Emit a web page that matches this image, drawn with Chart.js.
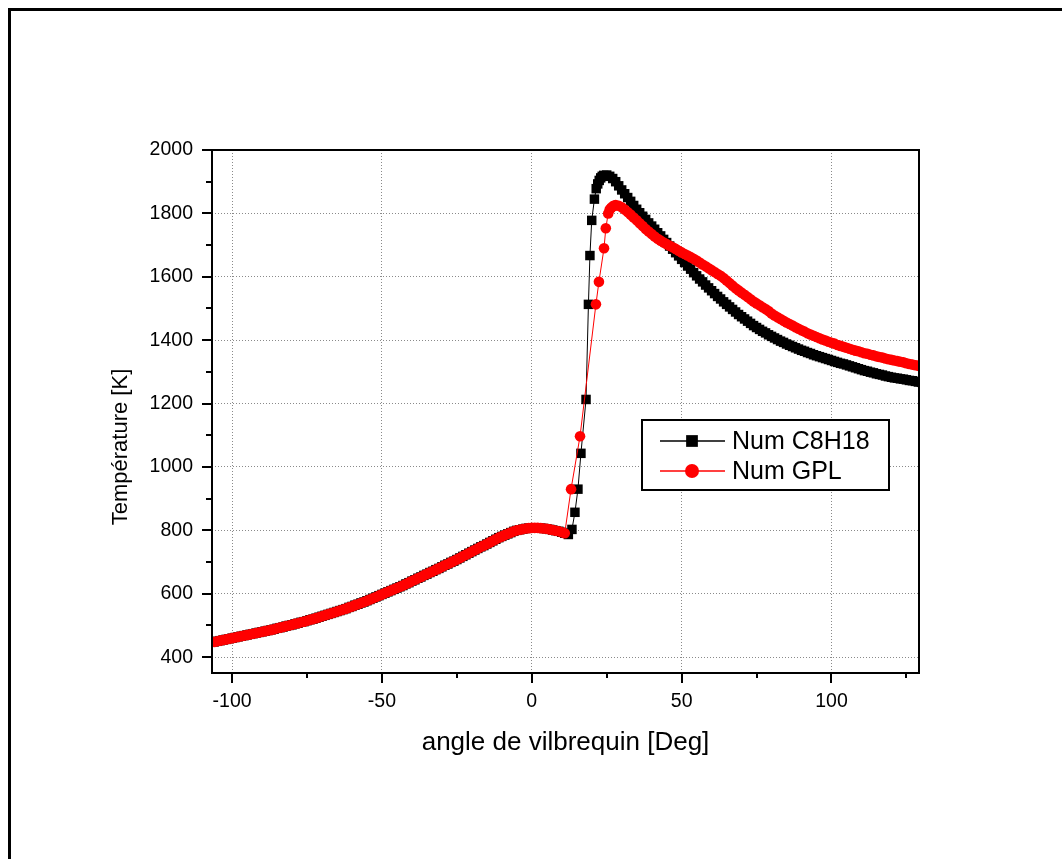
<!doctype html>
<html lang="fr"><head>
<meta charset="UTF-8"><title>Température - angle de vilbrequin</title>
<script src="https://cdn.jsdelivr.net/npm/chart.js@4/dist/chart.umd.min.js"></script>
<style>
 html,body{margin:0;background:#fff}
 #wrap{width:1062px;height:859px}
</style></head><body>
<div id="wrap"><canvas id="cyl"></canvas></div>
<script>
// ----- data: compression (shared by both fuels) -----
const compAngle = [-106,-105,-104,-103,-102,-101,-100,-99,-98,-97,-96,-95,-94,-93,-92,-91,-90,-89,-88,-87,-86,-85,-84,-83,-82,-81,-80,-79,-78,-77,-76,-75,-74,-73,-72,-71,-70,-69,-68,-67,-66,-65,-64,-63,-62,-61,-60,-59,-58,-57,-56,-55,-54,-53,-52,-51,-50,-49,-48,-47,-46,-45,-44,-43,-42,-41,-40,-39,-38,-37,-36,-35,-34,-33,-32,-31,-30,-29,-28,-27,-26,-25,-24,-23,-22,-21,-20,-19,-18,-17,-16,-15,-14,-13,-12,-11,-10,-9,-8,-7,-6,-5,-4,-3,-2,-1,0,1,2,3,4,5,6,7,8,9,10,11];
const compTemp  = [448,450,452,454,456,458,460,462,464,466,468,470,472,474,476,478,480,482,484,486,488,491,493,495,498,500,502,505,507,510,512,515,518,520,523,526,529,532,535,538,541,544,547,550,553,557,560,564,567,571,574,578,582,586,590,594,598,602,606,610,614,618,622,626,631,635,640,644,649,653,658,662,667,671,676,680,685,690,694,699,703,708,713,718,723,728,733,738,743,748,752,757,762,767,772,777,781,785,789,793,797,800,802,804,806,807,808,808,808,807,806,805,803,801,799,797,794,791];

// ----- data: combustion + expansion, Num C8H18 -----
const c8Angle = [12.2,13.4,14.4,15.4,16.4,18.1,18.9,19.4,20.0,20.9,21.5,22,22.5,23,23.5,24,25,26,27,28,29,30,31,32,33,34,35,36,37,38,39,40,41,42,43,44,45,46,47,48,49,50,51,52,53,54,55,56,57,58,59,60,61,62,63,64,65,66,67,68,69,70,71,72,73,74,75,76,77,78,79,80,81,82,83,84,85,86,87,88,89,90,91,92,93,94,95,96,97,98,99,100,101,102,103,104,105,106,107,108,109,110,111,112,113,114,115,116,117,118,119,120,121,122,123,124,125,126,127,128,129,130];
const c8Temp  = [787,803,857,930,1043,1213,1513,1667,1778,1845,1878,1893,1904,1912,1917,1920,1921,1917,1910,1900,1887,1874,1862,1850,1838,1825,1813,1802,1791,1781,1770,1760,1750,1739,1729,1718,1708,1697,1687,1676,1666,1655,1645,1634,1624,1613,1603,1593,1584,1574,1565,1556,1547,1538,1530,1521,1513,1505,1497,1489,1481,1474,1467,1460,1453,1446,1440,1434,1428,1423,1417,1412,1407,1402,1397,1393,1388,1384,1380,1376,1372,1368,1365,1361,1358,1354,1351,1348,1345,1342,1339,1336,1333,1330,1327,1325,1322,1319,1316,1313,1310,1307,1304,1302,1299,1297,1294,1292,1290,1287,1285,1283,1281,1280,1278,1277,1275,1273,1272,1270,1268,1267];

// ----- data: combustion + expansion, Num GPL -----
const gplAngle = [13.1,16.1,21.4,22.4,24.1,24.7,25.5,26,26.5,27,27.5,28,29,30,31,32,33,34,35,36,37,38,39,40,41,42,43,44,45,46,47,48,49,50,51,52,53,54,55,56,57,58,59,60,61,62,63,64,65,66,67,68,69,70,71,72,73,74,75,76,77,78,79,80,81,82,83,84,85,86,87,88,89,90,91,92,93,94,95,96,97,98,99,100,101,102,103,104,105,106,107,108,109,110,111,112,113,114,115,116,117,118,119,120,121,122,123,124,125,126,127,128,129,130];
const gplTemp  = [930,1097,1513,1584,1690,1753,1800,1812,1818,1822,1825,1826,1824,1819,1812,1804,1796,1787,1778,1769,1760,1751,1743,1735,1727,1720,1714,1708,1703,1698,1693,1688,1682,1677,1672,1667,1662,1657,1651,1645,1639,1633,1627,1621,1615,1609,1603,1596,1588,1580,1572,1564,1557,1550,1543,1536,1529,1522,1516,1510,1504,1498,1492,1484,1478,1472,1467,1461,1456,1451,1446,1441,1436,1431,1427,1422,1418,1414,1410,1406,1402,1399,1395,1392,1389,1385,1382,1379,1376,1373,1370,1367,1365,1362,1359,1357,1354,1352,1349,1347,1345,1342,1340,1338,1336,1334,1332,1330,1327,1325,1323,1321,1319,1317];

// ----- axes -----
const xMajor = [-100, -50, 0, 50, 100];
const xMinor = [-75, -25, 25, 75, 125];
const yMajor = [400, 600, 800, 1000, 1200, 1400, 1600, 1800, 2000];
const yMinor = [500, 700, 900, 1100, 1300, 1500, 1700, 1900];
const xTitle = 'angle de vilbrequin [Deg]';
const yTitle = 'Température [K]';
const seriesNames = ['Num C8H18', 'Num GPL'];

const FONT = '"Liberation Sans", Arial, sans-serif';

const pts = (a, t) => a.map((x, i) => ({x, y: t[i]}));
const c8Data  = pts(compAngle, compTemp).concat(pts(c8Angle, c8Temp));
const gplData = pts(compAngle, compTemp).concat(pts(gplAngle, gplTemp));

// frame, ticks, titles and the boxed legend
const decor = {
  id: 'decor',
  beforeDraw(chart){
    const c = chart.ctx;
    c.save();
    c.fillStyle = '#fff';
    c.fillRect(0, 0, chart.width, chart.height);
    c.fillStyle = '#000';
    c.fillRect(8, 8, chart.width - 8, 3);
    c.fillRect(8, 8, 3, chart.height - 8);
    c.restore();
  },
  afterDatasetsDraw(chart){
    const c = chart.ctx, a = chart.chartArea;
    const xs = chart.scales.x, ys = chart.scales.y;
    c.save();
    c.strokeStyle = '#000';
    c.lineWidth = 2;
    c.strokeRect(a.left, a.top, a.right - a.left, a.bottom - a.top);

    c.beginPath();
    xMajor.forEach(v => { const p = Math.round(xs.getPixelForValue(v)); c.moveTo(p, a.bottom); c.lineTo(p, a.bottom + 10); });
    xMinor.forEach(v => { const p = Math.round(xs.getPixelForValue(v)); c.moveTo(p, a.bottom); c.lineTo(p, a.bottom + 5); });
    yMajor.forEach(v => { const p = Math.round(ys.getPixelForValue(v)); c.moveTo(a.left, p); c.lineTo(a.left - 10, p); });
    yMinor.forEach(v => { const p = Math.round(ys.getPixelForValue(v)); c.moveTo(a.left, p); c.lineTo(a.left - 6, p); });
    c.stroke();

    // axis titles
    c.fillStyle = '#000';
    c.textAlign = 'center';
    c.textBaseline = 'middle';
    c.font = '26px ' + FONT;
    c.fillText(xTitle, (a.left + a.right) / 2, 743);
    c.font = '22px ' + FONT;
    c.translate(121, 447);
    c.rotate(-Math.PI / 2);
    c.fillText(yTitle, 0, 0);
    c.setTransform(1, 0, 0, 1, 0, 0);

    // legend
    const bx = 642, by = 420, bw = 247, bh = 70;
    c.fillStyle = '#fff';
    c.fillRect(bx, by, bw, bh);
    c.lineWidth = 2;
    c.strokeStyle = '#000';
    c.strokeRect(bx, by, bw, bh);
    const rows = [
      {y: 441, color: '#000', style: 'rect', r: 8.3},
      {y: 471, color: '#ff0000', style: 'circle', r: 7}
    ];
    rows.forEach((row, i) => {
      c.strokeStyle = row.color;
      c.lineWidth = 1.3;
      c.beginPath(); c.moveTo(660, row.y); c.lineTo(725, row.y); c.stroke();
      c.fillStyle = row.color;
      Chart.helpers.drawPoint(c, {pointStyle: row.style, radius: row.r, borderWidth: 0}, 692, row.y);
      c.fillStyle = '#000';
      c.textAlign = 'left';
      c.font = '25px ' + FONT;
      c.fillText(seriesNames[i], 732, row.y + 1);
    });
    c.restore();
  }
};

new Chart(document.getElementById('cyl'), {
  type: 'scatter',
  data: {
    datasets: [
      {label: seriesNames[0], data: c8Data, showLine: true, order: 2,
       borderColor: '#000', borderWidth: 1, backgroundColor: '#000',
       pointStyle: 'rect', pointRadius: 6.7, pointBorderWidth: 0, pointHoverRadius: 6.7},
      {label: seriesNames[1], data: gplData, showLine: true, order: 1,
       borderColor: '#ff0000', borderWidth: 1, backgroundColor: '#ff0000',
       pointStyle: 'circle', pointRadius: 5.3, pointBorderWidth: 0, pointHoverRadius: 5.3}
    ]
  },
  options: {
    responsive: true,
    maintainAspectRatio: false,
    animation: false,
    events: [],
    layout: {padding: {left: 0, top: 150, right: 143, bottom: 0}},
    plugins: {legend: {display: false}, tooltip: {enabled: false}},
    scales: {
      x: {
        type: 'linear', min: -106.7, max: 129.2,
        afterBuildTicks: s => { s.ticks = xMajor.map(v => ({value: v})); },
        afterFit: s => { s.height = 186; },
        grid: {color: '#8a8a8a', lineWidth: 1, drawTicks: false},
        border: {display: false, dash: [1, 2]},
        ticks: {color: '#000', font: {family: FONT, size: 19.5}, padding: 17, maxRotation: 0,
                callback: v => String(v)}
      },
      y: {
        type: 'linear', min: 350, max: 2000,
        afterBuildTicks: s => { s.ticks = yMajor.map(v => ({value: v})); },
        afterFit: s => { s.width = 212; },
        grid: {color: '#8a8a8a', lineWidth: 1, drawTicks: false},
        border: {display: false, dash: [1, 2]},
        ticks: {color: '#000', font: {family: FONT, size: 19.5}, padding: 19,
                callback: v => String(v)}
      }
    }
  },
  plugins: [decor]
});
</script>
</body></html>
